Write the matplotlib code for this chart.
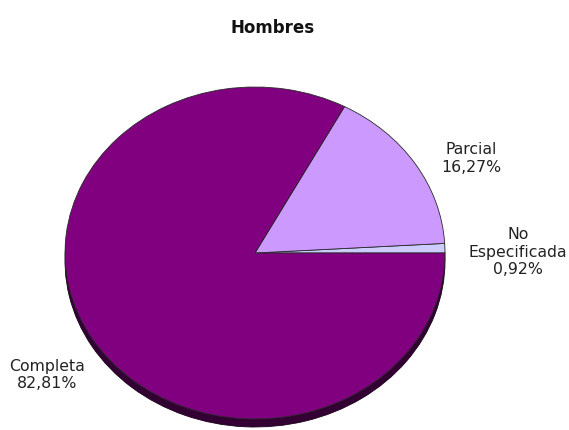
import matplotlib
matplotlib.use("Agg")
from matplotlib import pyplot as plt

# data
categories = ["No\nEspecificada", "Parcial", "Completa"]
values = [0.92, 16.27, 82.81]
pct_labels = ["0,92%", "16,27%", "82,81%"]
colors = ["#CCCCFF", "#CC99FF", "#800080"]
title = "Hombres"

# figure 569x430 px
fig = plt.figure(figsize=(5.69, 4.30), dpi=100)
ax = fig.add_axes([0, 0, 1, 1])

# ellipse: center (255, 253) px from top-left, rx=190, ry=166
cx, cy, rx, ry = 255, 430 - 253, 190, 166
depth = 8 / ry

# dark "3d" side under the pie
ax.pie(values, colors=["#330033"] * 3, startangle=0, counterclock=True,
       center=(0, -depth), wedgeprops=dict(edgecolor="#1a001a", linewidth=0.6))
# top face
ax.pie(values, colors=colors, startangle=0, counterclock=True,
       wedgeprops=dict(edgecolor="#2a2a2a", linewidth=0.6))

ax.set_aspect("auto")
ax.set_xlim((0 - cx) / rx, (569 - cx) / rx)
ax.set_ylim((0 - cy) / ry, (430 - cy) / ry)
ax.axis("off")

# label positions in pixels (x, y from top)
label_pos = [(518, 252), (471, 158), (47, 375)]
for name, pct, (px, py) in zip(categories, pct_labels, label_pos):
    ax.text((px - cx) / rx, ((430 - py) - cy) / ry, name + "\n" + pct,
            ha="center", va="center", fontsize=11.3, color="#222222",
            linespacing=1.25)

fig.text(273 / 569, 1 - 28 / 430, title, ha="center", va="center",
         fontsize=12, fontweight="bold", color="#111111")

fig.savefig("out.png", dpi=100)
